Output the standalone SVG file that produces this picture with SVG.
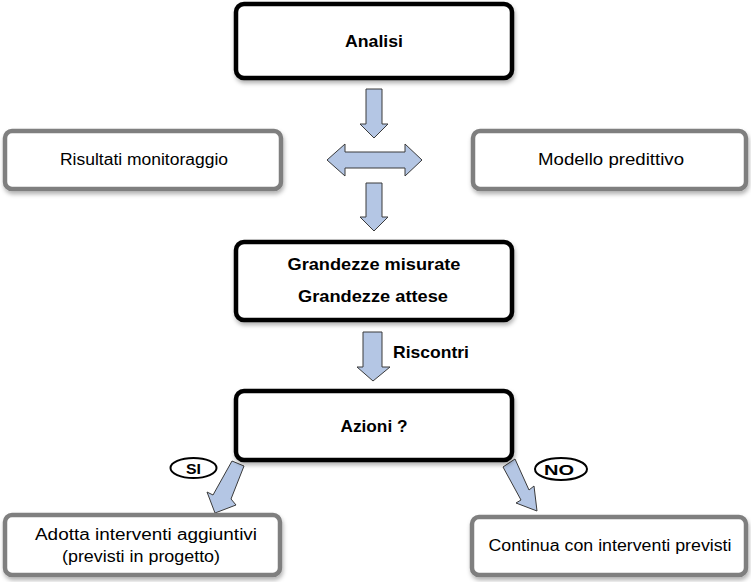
<svg xmlns="http://www.w3.org/2000/svg" width="751" height="582" viewBox="0 0 751 582">
<style>
.main{fill:#fff;stroke:#000;stroke-width:4.5}
.side{fill:#fff;stroke:#7f7f7f;stroke-width:4.5}
.arr{fill:#b4c6e4;stroke:#3a3a3a;stroke-width:1}
.t{font-family:"Liberation Sans",Arial,sans-serif;font-size:16px;fill:#000;text-anchor:middle}
.b{font-family:"Liberation Sans",Arial,sans-serif;font-size:17px;font-weight:bold;fill:#000;text-anchor:middle}
.lab{fill:#fff;stroke:#000;stroke-width:2}
</style>
<defs>
<filter id="sh" x="-10%" y="-20%" width="120%" height="150%">
<feDropShadow dx="1" dy="3" stdDeviation="2" flood-color="#000" flood-opacity="0.3"/>
</filter>
</defs>
<g id="connectors">
<polygon class="arr" points="366,89 382,89 382,124 388,124 374,138 360,124 366,124"/>
<polygon class="arr" points="327,160 345,144 345,152 405,152 405,144 422,160 405,176 405,168 345,168 345,176"/>
<polygon class="arr" points="366,183 382,183 382,217 388,217 374,231 360,217 366,217"/>
<polygon class="arr" points="363,332 382,332 382,367 390,367 373,381 357,367 363,367"/>
<polygon class="arr" points="232,461 244,466 231,499 236,505 215,513 207,492 213,495"/>
<polygon class="arr" points="503,467 515,459 529,490 534,486 537,511 516,503 521,500"/>
</g>
<g id="analisi"><rect class="main" x="236" y="4" width="276" height="74" rx="8" filter="url(#sh)"/><text class="b" x="374" y="47" textLength="58" lengthAdjust="spacingAndGlyphs">Analisi</text></g>
<g id="risultati"><rect class="side" x="5" y="131" width="276" height="58" rx="7" filter="url(#sh)"/><text class="t" x="144" y="165" textLength="168" lengthAdjust="spacingAndGlyphs">Risultati monitoraggio</text></g>
<g id="modello"><rect class="side" x="473" y="131" width="273" height="58" rx="7" filter="url(#sh)"/><text class="t" x="611" y="165" textLength="146" lengthAdjust="spacingAndGlyphs">Modello predittivo</text></g>
<g id="grandezze"><rect class="main" x="236" y="242" width="276" height="78" rx="8" filter="url(#sh)"/><text class="b" x="374" y="270" textLength="173" lengthAdjust="spacingAndGlyphs">Grandezze misurate</text><text class="b" x="373" y="302" textLength="150" lengthAdjust="spacingAndGlyphs">Grandezze attese</text></g>
<g id="riscontri"><text class="b" x="393" y="358" style="text-anchor:start" textLength="76" lengthAdjust="spacingAndGlyphs">Riscontri</text></g>
<g id="azioni"><rect class="main" x="236" y="391" width="276" height="69" rx="8" filter="url(#sh)"/><text class="b" x="374" y="432" textLength="67" lengthAdjust="spacingAndGlyphs">Azioni ?</text></g>
<g id="si"><ellipse class="lab" cx="193.5" cy="468" rx="23" ry="10"/><text class="b" x="193.5" y="474" style="font-size:15px" textLength="15" lengthAdjust="spacingAndGlyphs">SI</text></g>
<g id="no"><ellipse class="lab" cx="561" cy="469" rx="26" ry="11"/><text class="b" x="559" y="475" style="font-size:15px" textLength="30" lengthAdjust="spacingAndGlyphs">NO</text></g>
<g id="adotta"><rect class="side" x="5" y="515" width="275" height="60" rx="7" filter="url(#sh)"/><text class="t" x="146" y="540" textLength="222" lengthAdjust="spacingAndGlyphs">Adotta interventi aggiuntivi</text><text class="t" x="141" y="562" textLength="158" lengthAdjust="spacingAndGlyphs">(previsti in progetto)</text></g>
<g id="continua"><rect class="side" x="472" y="517" width="274" height="58" rx="7" filter="url(#sh)"/><text class="t" x="610" y="551" textLength="243" lengthAdjust="spacingAndGlyphs">Continua con interventi previsti</text></g>
</svg>
